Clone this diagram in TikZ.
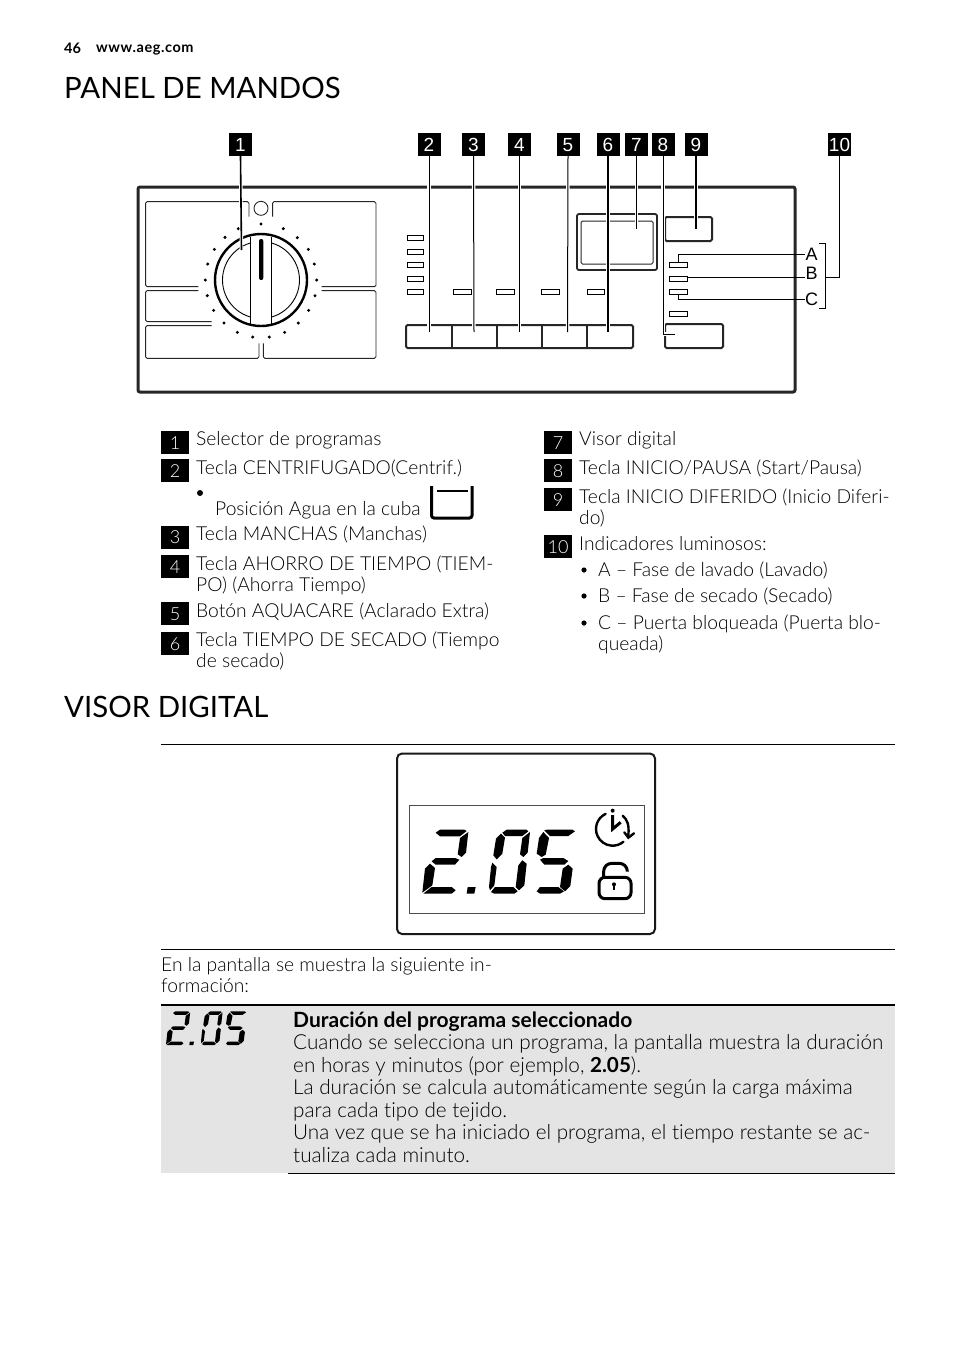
\documentclass[tikz,border=0pt]{standalone}
\usepackage{fontspec}
\setmainfont{Lato}[UprightFont=* Light,BoldFont=* Bold,Ligatures=NoCommon]
\newfontfamily\arialf{Liberation Sans}
\newfontfamily\headfont{Lato}
\newfontfamily\webfont{Lato Bold}[LetterSpace=4]
\definecolor{panelgray}{HTML}{E4E4E4}
% whole 2.05 readout: #1 x, #2 y of crop origin, #3 size of one crop unit in pt
\newcommand{\readout}[3]{%
  \begin{scope}[shift={(#1,#2)},x=#3pt,y=-#3pt]
    % 2
    \fill (62,32)--(75,23)--(148,23)--(155,27)--(135,43)--(75,43)--cycle;
    \fill (160,30)--(153,92)--(140,105)--(128,97)--(135,48)--cycle;
    \fill (50,118)--(62,108)--(120,108)--(133,113)--(120,128)--(62,128)--cycle;
    \fill (45,125)--(60,138)--(52,190)--(22,212)--(30,140)--cycle;
    \fill (25,215)--(50,195)--(110,195)--(122,205)--(110,215)--cycle;
    % dot
    \fill (158,195)--(182,195)--(178,215)--(155,215)--cycle;
    % 0
    \fill (262,32)--(275,23)--(335,23)--(340,28)--(322,42)--(270,42)--cycle;
    \fill (258,35)--(270,47)--(262,95)--(245,112)--(235,100)--(243,50)--cycle;
    \fill (345,30)--(338,92)--(325,105)--(315,97)--(322,48)--cycle;
    \fill (232,122)--(245,135)--(238,190)--(225,205)--(222,195)--(228,135)--cycle;
    \fill (322,115)--(335,125)--(328,190)--(312,205)--(302,195)--(310,130)--cycle;
    \fill (228,210)--(240,195)--(295,195)--(308,208)--(298,215)--(238,215)--cycle;
    % 5
    \fill (388,25)--(405,42)--(460,42)--(480,28)--(472,23)--(395,23)--cycle;
    \fill (385,30)--(402,48)--(392,98)--(380,105)--(365,95)--(372,48)--cycle;
    \fill (375,113)--(385,108)--(445,108)--(460,117)--(448,128)--(388,128)--cycle;
    \fill (460,128)--(473,140)--(466,192)--(450,208)--(435,195)--(443,140)--cycle;
    \fill (365,208)--(375,195)--(430,195)--(447,208)--(435,215)--(375,215)--cycle;
  \end{scope}}
\tikzset{
  x=1pt,y=-1pt,
  txt/.style={anchor=base west,inner sep=0pt,font=\fontsize{19.25}{19.25}\selectfont},
  tabtxt/.style={anchor=base west,inner sep=0pt,font=\fontsize{20.7}{20.7}\selectfont},
  headtxt/.style={anchor=base west,inner sep=0pt,font=\headfont\fontsize{29.4}{29.4}\selectfont},
  numbox/.style={fill=black,text=white,minimum size=23pt,inner sep=0pt,text height=13.5pt,text depth=0pt,font=\arialf\fontsize{19}{19}\selectfont},
  legbox/.style={fill=black,text=white,minimum width=28pt,minimum height=23pt,inner sep=0pt,text height=13pt,text depth=0pt,font=\fontsize{18}{18}\selectfont},
  conn/.style={draw=black,line width=1pt,preaction={draw=white,line width=3.5pt}},
  thinconn/.style={draw=black,line width=1pt},
  led/.style={draw=black,line width=1pt,fill=white},
  pnl/.style={draw=black!85,line width=.9pt,rounded corners=1.5pt},
  btn/.style={draw=black!85,line width=2pt,rounded corners=1.5pt},
}
\begin{document}
\begin{tikzpicture}
\useasboundingbox[fill=white] (0,0) rectangle (954,1352);
% header
\node[txt,font=\bfseries\fontsize{14.5}{14.5}\selectfont] (pg) at (64,53) {46};
\node[txt,font=\webfont\fontsize{14.5}{14.5}\selectfont] (web) at (96,52) {www.aeg.com};
\node[headtxt] (h1) at (64,98) {PANEL DE MANDOS};
% panel
\draw[draw=black!85,line width=3pt,rounded corners=2pt] (138,187) rectangle (795,392);
% panels round dial (coordinates in crop units)
\begin{scope}[shift={(130,125)},x=.33333pt,y=-.33333pt]
  \draw[pnl] (205,485)--(47,485)--(47,230)--(357,230)--(357,275);
  \draw[pnl] (428,275)--(428,230)--(738,230)--(738,485)--(575,485);
  \draw[pnl] (205,497)--(47,497)--(47,590)--(245,590);
  \draw[pnl] (575,497)--(738,497)--(738,700)--(400,700)--(400,655);
  \draw[pnl] (245,602)--(47,602)--(47,700)--(387,700)--(387,655);
  \draw[black!85,line width=.9pt] (393,250) circle[radius=21];
  \foreach \a/\b in {393/297,460/311,502/338,535/373,553/417,560/465,555/512,536/556,505/594,464/622,418/636,368/636,322/622,282/594,251/556,232/512,226/465,233/417,253/373,285/337,325/311}
    \fill (\a,\b) circle[radius=5];
\end{scope}
% dial
\draw[line width=2.4pt] (261,280) circle[radius=46];
\draw[line width=.9pt] (261,280) circle[radius=38.5];
\fill[white] (250.7,237.5) rectangle (271.3,322.5);
\draw[line width=1.1pt] (250.7,236.5) -- (250.7,324.5);
\draw[line width=1.1pt] (271.3,236.5) -- (271.3,324.5);
\fill[rounded corners=2pt] (259,239) rectangle (263.3,280);
% LEDs
\foreach \y in {235,249,262,276,289} \draw[led] (407,\y) rectangle (423,\y+5.5);
\foreach \a/\b in {453/471,496/514,541/559,587/604} \draw[led] (\a,289) rectangle (\b,294.5);
\foreach \y in {262,276,289,311} \draw[led] (669,\y) rectangle (687,\y+5.5);
% keys
\draw[btn] (406,325) rectangle (633,348);
\foreach \a in {452,497,542,587} \draw[draw=black!85,line width=1.5pt] (\a,325) -- (\a,348);
\draw[btn] (665,217) rectangle (712,241);
\draw[btn] (665,324) rectangle (723,348);
\draw[draw=black!85,line width=1.8pt,rounded corners=2pt] (577,214) rectangle (657,270);
\draw[draw=black!85,line width=1pt,rounded corners=1.5pt] (581,221) rectangle (653,264);
% top numbers
\node[numbox] (n1) at (240.5,144.5) {1};
\node[numbox] (n2) at (429,144.5) {2};
\node[numbox] (n3) at (473.5,144.5) {3};
\node[numbox] (n4) at (519.5,144.5) {4};
\node[numbox] (n5) at (568,144.5) {5};
\node[numbox] (n6) at (608,144.5) {6};
\node[numbox] (n7) at (636.5,144.5) {7};
\node[numbox] (n8) at (663,144.5) {8};
\node[numbox] (n9) at (696,144.5) {9};
\node[numbox] (n10) at (839.5,144.5) {10};
\coordinate (t1) at (241.5,250);
\coordinate (t2) at (429,332);
\coordinate (t3) at (474,332);
\coordinate (t4) at (519.5,332);
\coordinate (t5) at (567.5,332);
\coordinate (t6) at (608,332);
\coordinate (t7) at (636.5,229);
\coordinate (t8) at (675,334);
\coordinate (t9) at (696,229);
\draw[conn,line width=1.6pt] (n1.south) -- (t1);
\draw[conn] (n2.south) -- (t2);
\draw[conn] (n3.south) -- (t3);
\draw[conn] (n4.south) -- (t4);
\draw[conn] (n5.south) -- (t5);
\draw[conn,line width=1.3pt] (n6.south) -- (t6);
\draw[conn] (n7.south) -- (t7);
\draw[conn] (n8.south) |- (t8);
\draw[conn,line width=1.6pt] (n9.south) -- (t9);
% A B C
\node[anchor=center,inner sep=0pt,font=\arialf\fontsize{18}{18}\selectfont] (la) at (811.5,254) {A};
\node[anchor=center,inner sep=0pt,font=\arialf\fontsize{18}{18}\selectfont] (lb) at (811.5,273) {B};
\node[anchor=center,inner sep=0pt,font=\arialf\fontsize{18}{18}\selectfont] (lc) at (811.5,299) {C};
\coordinate (ea) at (678,262);
\coordinate (eb) at (687,277.5);
\coordinate (ec) at (678,295);
\coordinate (br) at (825,277.5);
\draw[thinconn] (ea) |- (la.west);
\draw[thinconn] (eb) -- (lb.west |- eb);
\draw[thinconn] (ec) |- (lc.west);
\draw[thinconn] (819,243) -- (825,243) -- (825,308) -- (819,308);
\draw[thinconn] (n10.south) |- (br);
% legend left
\node[legbox] (l1) at (175,442.5) {1};
\node[legbox] (l2) at (175,470.5) {2};
\node[legbox] (l3) at (175,537) {3};
\node[legbox] (l4) at (175,566.5) {4};
\node[legbox] (l5) at (175,613.5) {5};
\node[legbox] (l6) at (175,643.5) {6};
\node[txt] (tl1) at (196,445) {Selector de programas};
\node[txt] (tl2) at (196,474) {Tecla CENTRIFUGADO(Centrif.)};
\fill (200,493) circle[radius=3];
\node[txt] (tl2b) at (215,515) {Posición Agua en la cuba};
\draw[line width=3pt,rounded corners=2.5pt] (431.5,486) -- (431.5,518) -- (472,518) -- (472,486);
\draw[line width=2.4pt] (437,491) -- (468,491);
\node[txt] (tl3) at (196,540) {Tecla MANCHAS (Manchas)};
\node[txt] (tl4) at (196,570) {Tecla AHORRO DE TIEMPO (TIEM-};
\node[txt] (tl4b) at (196,591) {PO) (Ahorra Tiempo)};
\node[txt] (tl5) at (196,617) {Botón AQUACARE (Aclarado Extra)};
\node[txt] (tl6) at (196,646) {Tecla TIEMPO DE SECADO (Tiempo};
\node[txt] (tl6b) at (196,667) {de secado)};
% legend right
\node[legbox] (l7) at (558,442.5) {7};
\node[legbox] (l8) at (558,470.5) {8};
\node[legbox] (l9) at (558,499.5) {9};
\node[legbox] (l10) at (558,546.5) {10};
\node[txt] (tr7) at (579,445) {Visor digital};
\node[txt] (tr8) at (579,474) {Tecla INICIO/PAUSA (Start/Pausa)};
\node[txt] (tr9) at (579,503) {Tecla INICIO DIFERIDO (Inicio Diferi-};
\node[txt] (tr9b) at (579,524) {do)};
\node[txt] (tr10) at (579,550) {Indicadores luminosos:};
\foreach \y in {570,596,623} \fill (584,\y) circle[radius=2.6];
\node[txt] (tra) at (598,576) {A – Fase de lavado (Lavado)};
\node[txt] (trb) at (598,602) {B – Fase de secado (Secado)};
\node[txt] (trc) at (598,629) {C – Puerta bloqueada (Puerta blo-};
\node[txt] (trcb) at (598,650) {queada)};
% visor
\node[headtxt] (h2) at (64,717) {VISOR DIGITAL};
\draw[line width=1pt] (161,744.5) -- (895,744.5);
\draw[line width=1pt] (161,949.5) -- (895,949.5);
\draw[draw=black!90,line width=2pt,rounded corners=5pt] (397,753.5) rectangle (655,934);
\draw[draw=black!70,line width=1pt] (409.5,805) rectangle (644,913);
\readout{415}{822}{.33333}
% icons (crop units)
\begin{scope}[shift={(390,745)},x=.33333pt,y=-.33333pt]
  \draw[line width=2.4pt,line cap=round] (668,252) ++(-115:50) arc[start angle=-115,end angle=-310,radius=50];
  \fill (668,197) circle[radius=6];
  \draw[line width=3pt] (668,210) -- (668,252) -- (692,232);
  \draw[line width=2.4pt,line cap=round] (698,212) .. controls (712,224) and (718,240) .. (715,270);
  \draw[line width=2.4pt,line cap=round] (703,262) -- (715,278) -- (732,265);
  \draw[line width=3pt,rounded corners=6pt] (627,397) rectangle (723,461);
  \draw[line width=3pt,rounded corners=8pt] (641,397) -- (641,355) -- (712,355) -- (712,380);
  \fill (672,418) circle[radius=6];
  \fill (669.5,418) rectangle (674.5,434);
\end{scope}
\node[txt] (vt1) at (161,971) {En la pantalla se muestra la siguiente in-};
\node[txt] (vt2) at (161,992) {formación:};
% table
\fill[panelgray] (161,1005) rectangle (895,1173);
\draw[line width=2pt] (161,1005) -- (895,1005);
\draw[line width=1pt] (288,1173.5) -- (895,1173.5);
\readout{162.15}{1007.4}{.175}
\node[tabtxt,font=\bfseries\fontsize{21}{21}\selectfont] (d0) at (293,1027) {Duración del programa seleccionado};
\node[tabtxt] (d1) at (293,1049) {Cuando se selecciona un programa, la pantalla muestra la duración};
\node[tabtxt] (d2) at (293,1072) {en horas y minutos (por ejemplo, \textbf{2.05}).};
\node[tabtxt] (d3) at (293,1094) {La duración se calcula automáticamente según la carga máxima};
\node[tabtxt] (d4) at (293,1117) {para cada tipo de tejido.};
\node[tabtxt] (d5) at (293,1139) {Una vez que se ha iniciado el programa, el tiempo restante se ac-};
\node[tabtxt] (d6) at (293,1162) {tualiza cada minuto.};
\end{tikzpicture}
\end{document}
